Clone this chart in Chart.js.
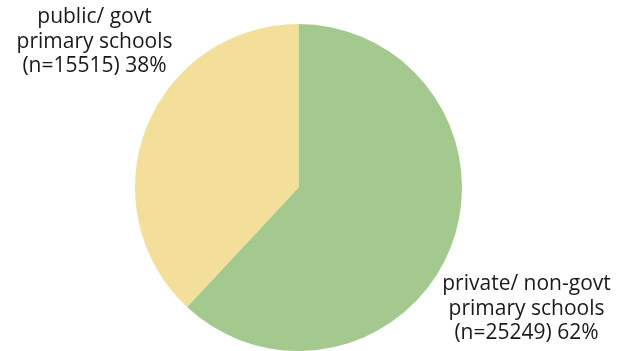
<!DOCTYPE html>
<html>
<head>
<meta charset="utf-8">
<script src="https://cdn.jsdelivr.net/npm/chart.js@4/dist/chart.umd.min.js"></script>
<style>
  html, body { margin: 0; padding: 0; background: #fff; }
  #wrap { width: 626px; height: 351px; position: relative; }
</style>
</head>
<body>
<div id="wrap"><canvas id="c"></canvas></div>
<script>
// School type counts
const categories = ['private/ non-govt primary schools', 'public/ govt primary schools'];
const counts = [25249, 15515];
const colors = ['#a3c98f', '#f4df9a'];
// Label lines drawn beside each slice
const labelLines = [
  ['private/ non-govt', 'primary schools', '(n=25249) 62%'],
  ['public/ govt', 'primary schools', '(n=15515) 38%']
];

const sideLabels = {
  id: 'sideLabels',
  afterDraw(chart) {
    const ctx = chart.ctx;
    const arcs = chart.getDatasetMeta(0).data;
    ctx.save();
    ctx.font = '21px "Open Sans"';
    ctx.fillStyle = '#1a1a1a';
    ctx.textAlign = 'center';
    ctx.textBaseline = 'middle';
    const lh = 24.5;
    // private slice: below-right of the pie
    const a0 = arcs[0];
    const p0 = { x: a0.x + 228, y: a0.y + 97 };
    labelLines[0].forEach((t, i) => ctx.fillText(t, p0.x, p0.y + i * lh));
    // public slice: above-left of the pie
    const a1 = arcs[1];
    const p1 = { x: a1.x - 204, y: a1.y - 170 };
    labelLines[1].forEach((t, i) => ctx.fillText(t, p1.x, p1.y + i * lh));
    ctx.restore();
  }
};

new Chart(document.getElementById('c'), {
  type: 'pie',
  data: {
    labels: categories,
    datasets: [{
      data: counts,
      backgroundColor: colors,
      borderWidth: 0
    }]
  },
  options: {
    responsive: true,
    maintainAspectRatio: false,
    animation: false,
    layout: { padding: { top: 24, bottom: 0, left: 0, right: 29 } },
    plugins: {
      legend: { display: false },
      tooltip: { enabled: false }
    }
  },
  plugins: [sideLabels]
});
</script>
</body>
</html>
